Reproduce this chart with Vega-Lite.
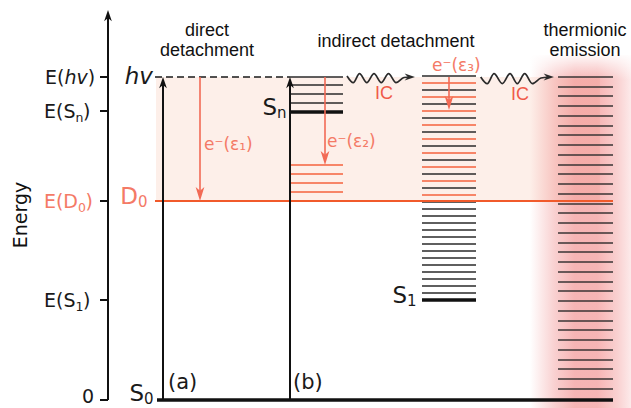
{
  "$schema": "https://vega.github.io/schema/vega-lite/v6.json",
  "width": 631,
  "height": 408,
  "autosize": {"type": "none"},
  "padding": 0,
  "background": "white",
  "config": {"view": {"stroke": null}},
  "datasets": {
    "band": [{"x": 156, "x2": 600, "E": 1.99, "E2": 3.23}],
    "glow": [{"x": 530, "x2": 642, "E": -0.1, "E2": 3.45}],
    "fade": [{"x": 520, "x2": 645, "E": 3.2, "E2": 3.47}],
    "levels": [
      {"x": 290, "x2": 343, "E": 3.23, "kind": "k"},
      {"x": 290, "x2": 343, "E": 3.15, "kind": "k"},
      {"x": 290, "x2": 343, "E": 3.06, "kind": "k"},
      {"x": 290, "x2": 343, "E": 2.97, "kind": "k"},
      {"x": 290, "x2": 343, "E": 2.88, "kind": "thick"},
      {"x": 290, "x2": 343, "E": 2.35, "kind": "r"},
      {"x": 290, "x2": 343, "E": 2.26, "kind": "r"},
      {"x": 290, "x2": 343, "E": 2.17, "kind": "r"},
      {"x": 290, "x2": 343, "E": 2.08, "kind": "r"},
      {"x": 422, "x2": 476, "E": 3.24, "kind": "k"},
      {"x": 422, "x2": 476, "E": 3.17, "kind": "r"},
      {"x": 422, "x2": 476, "E": 3.10, "kind": "k"},
      {"x": 422, "x2": 476, "E": 3.03, "kind": "r"},
      {"x": 422, "x2": 476, "E": 2.96, "kind": "k"},
      {"x": 422, "x2": 476, "E": 2.89, "kind": "r"},
      {"x": 422, "x2": 476, "E": 2.82, "kind": "k"},
      {"x": 422, "x2": 476, "E": 2.75, "kind": "r"},
      {"x": 422, "x2": 476, "E": 2.68, "kind": "k"},
      {"x": 422, "x2": 476, "E": 2.61, "kind": "r"},
      {"x": 422, "x2": 476, "E": 2.54, "kind": "k"},
      {"x": 422, "x2": 476, "E": 2.47, "kind": "r"},
      {"x": 422, "x2": 476, "E": 2.40, "kind": "k"},
      {"x": 422, "x2": 476, "E": 2.33, "kind": "r"},
      {"x": 422, "x2": 476, "E": 2.26, "kind": "k"},
      {"x": 422, "x2": 476, "E": 2.19, "kind": "r"},
      {"x": 422, "x2": 476, "E": 2.12, "kind": "k"},
      {"x": 422, "x2": 476, "E": 2.05, "kind": "r"},
      {"x": 422, "x2": 476, "E": 1.98, "kind": "k"},
      {"x": 422, "x2": 476, "E": 1.91, "kind": "k"},
      {"x": 422, "x2": 476, "E": 1.84, "kind": "k"},
      {"x": 422, "x2": 476, "E": 1.77, "kind": "k"},
      {"x": 422, "x2": 476, "E": 1.70, "kind": "k"},
      {"x": 422, "x2": 476, "E": 1.63, "kind": "k"},
      {"x": 422, "x2": 476, "E": 1.56, "kind": "k"},
      {"x": 422, "x2": 476, "E": 1.49, "kind": "k"},
      {"x": 422, "x2": 476, "E": 1.42, "kind": "k"},
      {"x": 422, "x2": 476, "E": 1.35, "kind": "k"},
      {"x": 422, "x2": 476, "E": 1.28, "kind": "k"},
      {"x": 422, "x2": 476, "E": 1.21, "kind": "k"},
      {"x": 422, "x2": 476, "E": 1.14, "kind": "k"},
      {"x": 422, "x2": 476, "E": 1.07, "kind": "k"},
      {"x": 422, "x2": 476, "E": 1.00, "kind": "thick"},
      {"x": 558, "x2": 613, "E": 3.23, "kind": "t"},
      {"x": 558, "x2": 613, "E": 3.13, "kind": "t"},
      {"x": 558, "x2": 613, "E": 3.04, "kind": "t"},
      {"x": 558, "x2": 613, "E": 2.94, "kind": "t"},
      {"x": 558, "x2": 613, "E": 2.84, "kind": "t"},
      {"x": 558, "x2": 613, "E": 2.74, "kind": "t"},
      {"x": 558, "x2": 613, "E": 2.65, "kind": "t"},
      {"x": 558, "x2": 613, "E": 2.55, "kind": "t"},
      {"x": 558, "x2": 613, "E": 2.45, "kind": "t"},
      {"x": 558, "x2": 613, "E": 2.35, "kind": "t"},
      {"x": 558, "x2": 613, "E": 2.26, "kind": "t"},
      {"x": 558, "x2": 613, "E": 2.16, "kind": "t"},
      {"x": 558, "x2": 613, "E": 2.06, "kind": "t"},
      {"x": 558, "x2": 613, "E": 1.96, "kind": "t"},
      {"x": 558, "x2": 613, "E": 1.87, "kind": "t"},
      {"x": 558, "x2": 613, "E": 1.77, "kind": "t"},
      {"x": 558, "x2": 613, "E": 1.67, "kind": "t"},
      {"x": 558, "x2": 613, "E": 1.57, "kind": "t"},
      {"x": 558, "x2": 613, "E": 1.48, "kind": "t"},
      {"x": 558, "x2": 613, "E": 1.38, "kind": "t"},
      {"x": 558, "x2": 613, "E": 1.28, "kind": "t"},
      {"x": 558, "x2": 613, "E": 1.18, "kind": "t"},
      {"x": 558, "x2": 613, "E": 1.09, "kind": "t"},
      {"x": 558, "x2": 613, "E": 0.99, "kind": "t"},
      {"x": 558, "x2": 613, "E": 0.89, "kind": "t"},
      {"x": 558, "x2": 613, "E": 0.79, "kind": "t"},
      {"x": 558, "x2": 613, "E": 0.70, "kind": "t"},
      {"x": 558, "x2": 613, "E": 0.60, "kind": "t"},
      {"x": 558, "x2": 613, "E": 0.50, "kind": "t"},
      {"x": 558, "x2": 613, "E": 0.40, "kind": "t"},
      {"x": 558, "x2": 613, "E": 0.31, "kind": "t"},
      {"x": 558, "x2": 613, "E": 0.21, "kind": "t"},
      {"x": 558, "x2": 613, "E": 0.11, "kind": "t"}
    ],
    "d0line": [{"x": 155, "x2": 613, "E": 1.99}],
    "s0line": [{"x": 157, "x2": 613, "E": 0}],
    "hvline": [{"x": 155, "x2": 290, "E": 3.23}],
    "blackShafts": [
      {"x": 163, "E": 0, "E2": 3.2},
      {"x": 290, "E": 0, "E2": 3.2},
      {"x": 108, "E": 0, "E2": 3.85}
    ],
    "ticks": [
      {"x": 100, "x2": 108, "E": 3.23},
      {"x": 100, "x2": 108, "E": 2.89},
      {"x": 100, "x2": 108, "E": 1.99},
      {"x": 100, "x2": 108, "E": 1.00},
      {"x": 100, "x2": 108, "E": 0}
    ],
    "redShafts": [
      {"x": 200, "E": 3.23, "E2": 2.05},
      {"x": 325, "E": 3.23, "E2": 2.41},
      {"x": 449, "E": 3.23, "E2": 2.96}
    ],
    "waves": [
      {"id": 1, "x": 347, "E": 3.24},
      {"id": 1, "x": 353.3, "E": 3.173},
      {"id": 1, "x": 359.5, "E": 3.263},
      {"id": 1, "x": 366.8, "E": 3.173},
      {"id": 1, "x": 374, "E": 3.263},
      {"id": 1, "x": 381.3, "E": 3.173},
      {"id": 1, "x": 388.5, "E": 3.263},
      {"id": 1, "x": 396, "E": 3.173},
      {"id": 1, "x": 404, "E": 3.225},
      {"id": 1, "x": 410, "E": 3.23},
      {"id": 2, "x": 480.7, "E": 3.23},
      {"id": 2, "x": 487.3, "E": 3.163},
      {"id": 2, "x": 494, "E": 3.263},
      {"id": 2, "x": 502.3, "E": 3.163},
      {"id": 2, "x": 510, "E": 3.263},
      {"id": 2, "x": 517.3, "E": 3.163},
      {"id": 2, "x": 524.7, "E": 3.263},
      {"id": 2, "x": 532.3, "E": 3.163},
      {"id": 2, "x": 541, "E": 3.22},
      {"id": 2, "x": 549, "E": 3.23}
    ],
    "headsUp": [
      {"x": 163, "E": 3.23},
      {"x": 290, "E": 3.23},
      {"x": 108, "E": 3.9}
    ],
    "headsDown": [
      {"x": 200, "E": 1.99},
      {"x": 325, "E": 2.35},
      {"x": 449, "E": 2.9}
    ],
    "headsRight": [
      {"x": 415, "E": 3.23},
      {"x": 554, "E": 3.23}
    ],
    "headers": [
      {"x": 207, "E": 3.645, "t": "direct"},
      {"x": 207, "E": 3.44, "t": "detachment"},
      {"x": 396, "E": 3.535, "t": "indirect detachment"},
      {"x": 585, "E": 3.645, "t": "thermionic"},
      {"x": 585, "E": 3.44, "t": "emission"}
    ],
    "tickLabels": [
      {"x": 75.5, "E": 2.89, "pre": "E(S", "sub": "n", "post": ")", "tone": "k"},
      {"x": 78, "E": 1.99, "pre": "E(D", "sub": "0", "post": ")", "tone": "s"},
      {"x": 75.5, "E": 1.0, "pre": "E(S", "sub": "1", "post": ")", "tone": "k"}
    ],
    "hvTick": [{"x": 64.5, "E": 3.23, "pre": "E(", "mid": "hv", "post": ")"}],
    "zeroTick": [{"x": 94, "E": 0, "t": "0"}],
    "bigLabels": [
      {"x": 144, "E": 0.02, "main": "S", "sub": "0", "tone": "k"},
      {"x": 138, "E": 1.99, "main": "D", "sub": "0", "tone": "s"},
      {"x": 277, "E": 2.88, "main": "S", "sub": "n", "tone": "k"},
      {"x": 407, "E": 1.0, "main": "S", "sub": "1", "tone": "k"}
    ],
    "hvBig": [{"x": 153, "E": 3.23, "t": "hv"}],
    "panels": [
      {"x": 168, "E": 0.11, "t": "(a)"},
      {"x": 293, "E": 0.11, "t": "(b)"}
    ],
    "eLabels": [
      {"x": 204, "E": 2.5, "t": "e⁻(ε₁)"},
      {"x": 327, "E": 2.53, "t": "e⁻(ε₂)"},
      {"x": 432, "E": 3.29, "t": "e⁻(ε₃)"}
    ],
    "icLabels": [
      {"x": 375, "E": 3.01, "t": "IC"},
      {"x": 511, "E": 3.0, "t": "IC"}
    ],
    "title": [{"x": 21, "E": 1.85, "t": "Energy"}]
  },
  "data": {"name": "band"},
  "encoding": {
    "x": {"field": "x", "type": "quantitative", "scale": {"domain": [0, 631], "nice": false, "zero": false}, "axis": null},
    "y": {"field": "E", "type": "quantitative", "scale": {"domain": [-0.08, 4.0], "nice": false, "zero": false}, "axis": null}
  },
  "layer": [
    {
      "data": {"name": "band"},
      "mark": {"type": "rect", "fill": "#fdefe9"},
      "encoding": {"x2": {"field": "x2"}, "y2": {"field": "E2"}}
    },
    {
      "data": {"name": "glow"},
      "mark": {"type": "rect", "fill": {"gradient": "linear", "x1": 0, "y1": 0, "x2": 1, "y2": 0, "stops": [
        {"offset": 0, "color": "rgba(236,100,100,0)"},
        {"offset": 0.22, "color": "rgba(236,100,100,0.3)"},
        {"offset": 0.4, "color": "rgba(236,100,100,0.48)"},
        {"offset": 0.6, "color": "rgba(236,100,100,0.48)"},
        {"offset": 0.78, "color": "rgba(236,100,100,0.3)"},
        {"offset": 1, "color": "rgba(236,100,100,0)"}
      ]}},
      "encoding": {"x2": {"field": "x2"}, "y2": {"field": "E2"}}
    },
    {
      "data": {"name": "fade"},
      "mark": {"type": "rect", "fill": {"gradient": "linear", "x1": 0, "y1": 0, "x2": 0, "y2": 1, "stops": [
        {"offset": 0, "color": "rgba(255,255,255,1)"},
        {"offset": 1, "color": "rgba(255,255,255,0)"}
      ]}},
      "encoding": {"x2": {"field": "x2"}, "y2": {"field": "E2"}}
    },
    {
      "data": {"name": "levels"},
      "transform": [{"filter": "datum.kind === 't'"}],
      "mark": {"type": "rule", "stroke": "#3a3535", "strokeWidth": 1.6},
      "encoding": {"x2": {"field": "x2"}}
    },
    {
      "data": {"name": "levels"},
      "transform": [{"filter": "datum.kind === 'k'"}],
      "mark": {"type": "rule", "stroke": "#2a2a2a", "strokeWidth": 1.6},
      "encoding": {"x2": {"field": "x2"}}
    },
    {
      "data": {"name": "levels"},
      "transform": [{"filter": "datum.kind === 'r'"}],
      "mark": {"type": "rule", "stroke": "#f4623c", "strokeWidth": 1.6},
      "encoding": {"x2": {"field": "x2"}}
    },
    {
      "data": {"name": "levels"},
      "transform": [{"filter": "datum.kind === 'thick'"}],
      "mark": {"type": "rule", "stroke": "#111111", "strokeWidth": 3.4},
      "encoding": {"x2": {"field": "x2"}}
    },
    {
      "data": {"name": "d0line"},
      "mark": {"type": "rule", "stroke": "#f15a2b", "strokeWidth": 2},
      "encoding": {"x2": {"field": "x2"}}
    },
    {
      "data": {"name": "s0line"},
      "mark": {"type": "rule", "stroke": "#111111", "strokeWidth": 3.6},
      "encoding": {"x2": {"field": "x2"}}
    },
    {
      "data": {"name": "hvline"},
      "mark": {"type": "rule", "stroke": "#1a1a1a", "strokeWidth": 1.7, "strokeDash": [7, 4]},
      "encoding": {"x2": {"field": "x2"}}
    },
    {
      "data": {"name": "blackShafts"},
      "mark": {"type": "rule", "stroke": "#111111", "strokeWidth": 2},
      "encoding": {"y2": {"field": "E2"}}
    },
    {
      "data": {"name": "ticks"},
      "mark": {"type": "rule", "stroke": "#111111", "strokeWidth": 2},
      "encoding": {"x2": {"field": "x2"}}
    },
    {
      "data": {"name": "redShafts"},
      "mark": {"type": "rule", "stroke": "#f26a55", "strokeWidth": 1.6},
      "encoding": {"y2": {"field": "E2"}}
    },
    {
      "data": {"name": "waves"},
      "mark": {"type": "line", "stroke": "#2a2a2a", "strokeWidth": 1.7, "interpolate": "monotone"},
      "encoding": {"detail": {"field": "id", "type": "nominal"}, "order": {"field": "x", "type": "quantitative"}}
    },
    {
      "data": {"name": "headsUp"},
      "mark": {"type": "point", "shape": "M0,0L-0.55,1.6L0,1.15L0.55,1.6Z", "size": 196, "filled": true, "fill": "#111111", "opacity": 1, "strokeWidth": 0}
    },
    {
      "data": {"name": "headsDown"},
      "mark": {"type": "point", "shape": "M0,0L-0.62,-2L0,-1.45L0.62,-2Z", "size": 196, "filled": true, "fill": "#f26a55", "opacity": 1, "strokeWidth": 0}
    },
    {
      "data": {"name": "headsRight"},
      "mark": {"type": "point", "shape": "M0,0L-1.6,-0.55L-1.1,0L-1.6,0.55Z", "size": 169, "filled": true, "fill": "#2a2a2a", "opacity": 1, "strokeWidth": 0}
    },
    {
      "data": {"name": "headers"},
      "mark": {"type": "text", "font": "Liberation Sans", "fontSize": 18, "align": "center", "baseline": "alphabetic", "fill": "#111111"},
      "encoding": {"text": {"field": "t"}}
    },
    {
      "data": {"name": "tickLabels"},
      "mark": {"type": "text", "font": "DejaVu Sans", "fontSize": 19, "align": "right", "baseline": "alphabetic", "dy": 7},
      "encoding": {"text": {"field": "pre"}, "color": {"field": "tone", "type": "nominal", "scale": {"domain": ["k", "s"], "range": ["#1a1a1a", "#f47a66"]}, "legend": null}}
    },
    {
      "data": {"name": "tickLabels"},
      "mark": {"type": "text", "font": "DejaVu Sans", "fontSize": 12.5, "align": "left", "baseline": "alphabetic", "dy": 11},
      "encoding": {"text": {"field": "sub"}, "color": {"field": "tone", "type": "nominal", "scale": {"domain": ["k", "s"], "range": ["#1a1a1a", "#f47a66"]}, "legend": null}}
    },
    {
      "data": {"name": "tickLabels"},
      "mark": {"type": "text", "font": "DejaVu Sans", "fontSize": 19, "align": "left", "baseline": "alphabetic", "dy": 7, "dx": 7.6},
      "encoding": {"text": {"field": "post"}, "color": {"field": "tone", "type": "nominal", "scale": {"domain": ["k", "s"], "range": ["#1a1a1a", "#f47a66"]}, "legend": null}}
    },
    {
      "data": {"name": "hvTick"},
      "mark": {"type": "text", "font": "DejaVu Sans", "fontSize": 19, "align": "right", "baseline": "alphabetic", "dy": 7, "fill": "#1a1a1a"},
      "encoding": {"text": {"field": "pre"}}
    },
    {
      "data": {"name": "hvTick"},
      "mark": {"type": "text", "font": "DejaVu Sans", "fontStyle": "italic", "fontSize": 19, "align": "left", "baseline": "alphabetic", "dy": 7, "fill": "#1a1a1a"},
      "encoding": {"text": {"field": "mid"}}
    },
    {
      "data": {"name": "hvTick"},
      "mark": {"type": "text", "font": "DejaVu Sans", "fontSize": 19, "align": "left", "baseline": "alphabetic", "dy": 7, "dx": 23.3, "fill": "#1a1a1a"},
      "encoding": {"text": {"field": "post"}}
    },
    {
      "data": {"name": "zeroTick"},
      "mark": {"type": "text", "font": "DejaVu Sans", "fontSize": 19, "align": "right", "baseline": "alphabetic", "dy": 3, "fill": "#1a1a1a"},
      "encoding": {"text": {"field": "t"}}
    },
    {
      "data": {"name": "bigLabels"},
      "mark": {"type": "text", "font": "DejaVu Sans", "fontSize": 23, "align": "right", "baseline": "alphabetic", "dy": 3},
      "encoding": {"text": {"field": "main"}, "color": {"field": "tone", "type": "nominal", "scale": {"domain": ["k", "s"], "range": ["#1a1a1a", "#f47a66"]}, "legend": null}}
    },
    {
      "data": {"name": "bigLabels"},
      "mark": {"type": "text", "font": "DejaVu Sans", "fontSize": 15, "align": "left", "baseline": "alphabetic", "dy": 6},
      "encoding": {"text": {"field": "sub"}, "color": {"field": "tone", "type": "nominal", "scale": {"domain": ["k", "s"], "range": ["#1a1a1a", "#f47a66"]}, "legend": null}}
    },
    {
      "data": {"name": "hvBig"},
      "mark": {"type": "text", "font": "DejaVu Sans", "fontStyle": "italic", "fontSize": 23, "align": "right", "baseline": "alphabetic", "dy": 7, "fill": "#1a1a1a"},
      "encoding": {"text": {"field": "t"}}
    },
    {
      "data": {"name": "panels"},
      "mark": {"type": "text", "font": "DejaVu Sans", "fontSize": 21, "align": "left", "baseline": "alphabetic", "fill": "#1a1a1a"},
      "encoding": {"text": {"field": "t"}}
    },
    {
      "data": {"name": "eLabels"},
      "mark": {"type": "text", "font": "DejaVu Sans", "fontSize": 17, "align": "left", "baseline": "alphabetic", "fill": "#f47a66"},
      "encoding": {"text": {"field": "t"}}
    },
    {
      "data": {"name": "icLabels"},
      "mark": {"type": "text", "font": "Liberation Sans", "fontSize": 18, "align": "left", "baseline": "alphabetic", "fill": "#f05a48"},
      "encoding": {"text": {"field": "t"}}
    },
    {
      "data": {"name": "title"},
      "mark": {"type": "text", "font": "DejaVu Sans", "fontSize": 19, "align": "center", "baseline": "middle", "angle": 270, "fill": "#111111"},
      "encoding": {"text": {"field": "t"}}
    }
  ]
}
